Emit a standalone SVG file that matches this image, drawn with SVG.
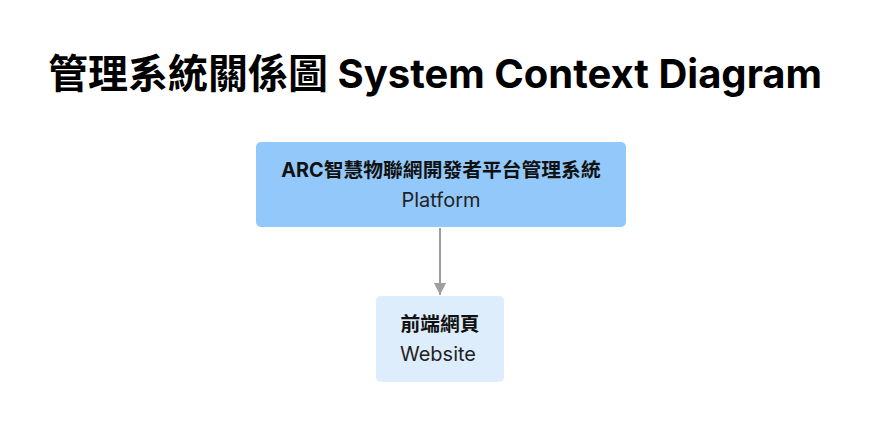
<svg xmlns="http://www.w3.org/2000/svg" width="880" height="431" viewBox="0 0 880 431">
<style>
.title{font-family:Inter,"Noto Sans CJK TC",sans-serif;font-weight:700;font-size:40px;fill:#000}
.name{font-family:Inter,"Noto Sans CJK TC",sans-serif;font-weight:700;font-size:19.8px;fill:#111;text-anchor:middle}
.sub{font-family:Inter,"Noto Sans CJK TC",sans-serif;font-weight:400;font-size:20px;fill:#222;text-anchor:middle}
.edge{stroke:#9e9e9e;stroke-width:2;fill:none}
</style>
<defs>
<marker id="arr" viewBox="0 0 10 10" refX="10" refY="5" markerWidth="6" markerHeight="6" orient="auto" markerUnits="strokeWidth">
<path d="M0,0 L10,5 L0,10 z" fill="#9e9e9e"/>
</marker>
</defs>
<rect width="880" height="431" fill="#fff"/>
<text class="title" x="48" y="88">管理系統關係圖 System Context Diagram</text>
<g id="connectors">
<line class="edge" x1="440" y1="228" x2="440" y2="295" marker-end="url(#arr)"/>
</g>
<g id="platform">
<rect x="256" y="142" width="370" height="85" rx="5" fill="#93C9FA"/>
<text class="name" x="441" y="177">ARC智慧物聯網開發者平台管理系統</text>
<text class="sub" x="441" y="207">Platform</text>
</g>
<g id="website">
<rect x="376" y="296" width="128" height="86" rx="5" fill="#DEEDFC"/>
<text class="name" x="440" y="331">前端網頁</text>
<text class="sub" x="438" y="361">Website</text>
</g>
</svg>
